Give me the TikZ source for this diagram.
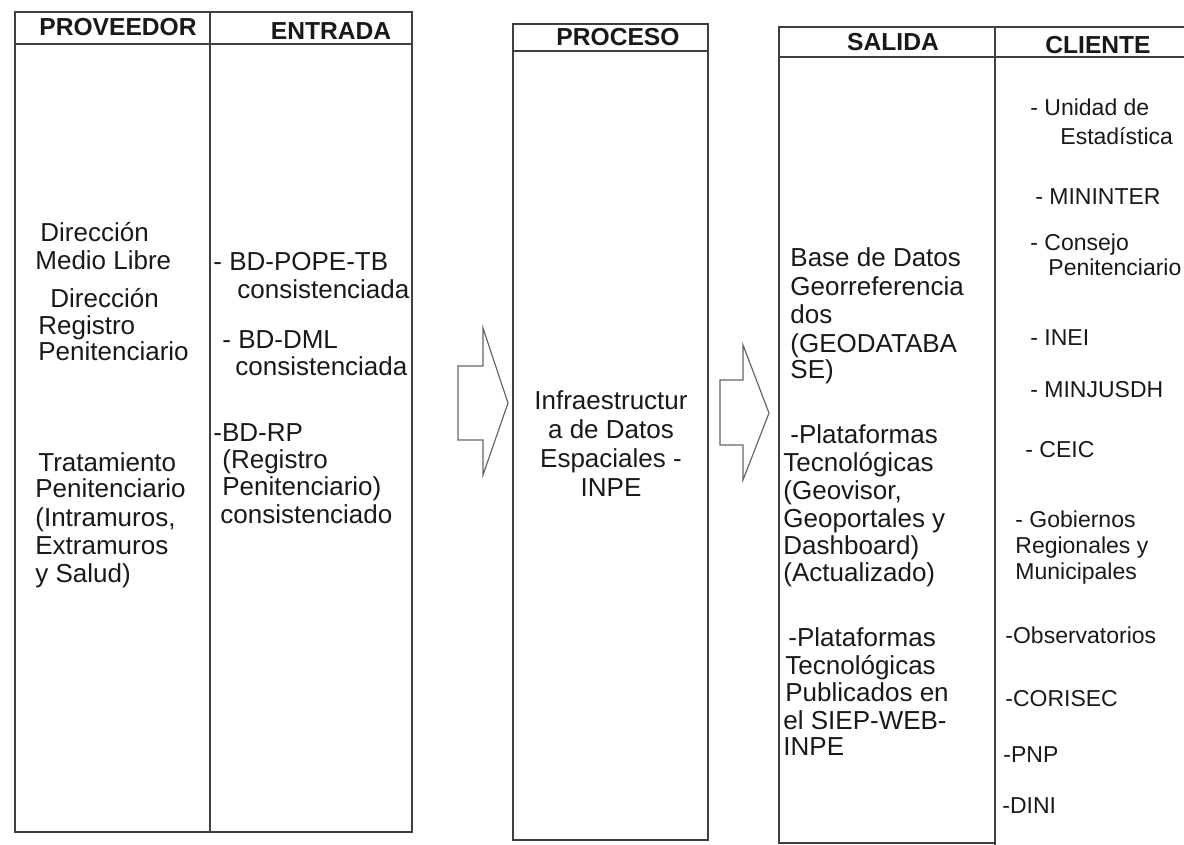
\documentclass[tikz,border=0pt]{standalone}
\usepackage{fontspec}
\setmainfont{Liberation Sans}
\newcommand\txtB[4]{\node[body] (#1) at (#2,#3) {#4};}
\newcommand\txtC[4]{\node[cli] (#1) at (#2,#3) {#4};}
\begin{document}
\begin{tikzpicture}[x=0.5pt,y=-0.5pt,
  frame/.style={draw=black!75, line width=0.8pt},
  hdr/.style={font=\fontsize{12.3}{14}\selectfont\bfseries, inner sep=0pt, text=black!90},
  body/.style={font=\fontsize{13}{14}\selectfont, inner sep=0pt, anchor=base west, text=black!90},
  cli/.style={font=\fontsize{11.5}{13}\selectfont, inner sep=0pt, anchor=base west, text=black!90},
  blockarrow/.style={draw=black!60, line width=0.6pt, line join=miter}]
\useasboundingbox (0,0) rectangle (1184,845);

% frames
\draw[frame] (15,12) rectangle (412,832);
\draw[frame] (15,44) -- (412,44);
\draw[frame] (210,12) -- (210,832);
\draw[frame] (513,24) rectangle (708,840);
\draw[frame] (513,51) -- (708,51);
\draw[frame] (1184,27) -- (779,27) -- (779,843) -- (995,843);
\draw[frame] (779,57) -- (1184,57);
\draw[frame] (995,27) -- (995,845);

% headers
\node[hdr] (hprov) at (118,27) {PROVEEDOR};
\node[hdr] (hent) at (331,31) {ENTRADA};
\node[hdr] (hproc) at (618,37) {PROCESO};
\node[hdr] (hsal) at (893,42) {SALIDA};
\node[hdr] (hcli) at (1098,45) {CLIENTE};

% proveedor
\txtB{p1}{40}{242}{Dirección}
\txtB{p2}{35}{270}{Medio Libre}
\txtB{p3}{50}{307}{Dirección}
\txtB{p4}{38}{335}{Registro}
\txtB{p5}{38}{361}{Penitenciario}
\txtB{p6}{38}{471}{Tratamiento}
\txtB{p7}{35}{497}{Penitenciario}
\txtB{p8}{35}{526}{(Intramuros,}
\txtB{p9}{35}{554}{Extramuros}
\txtB{p10}{35}{582}{y Salud)}

% entrada
\txtB{e1}{213}{271}{- BD-POPE-TB}
\txtB{e2}{237}{299}{consistenciada}
\txtB{e3}{222}{349}{- BD-DML}
\txtB{e4}{235}{376}{consistenciada}
\txtB{e5}{213}{441}{-BD-RP}
\txtB{e6}{222}{468}{(Registro}
\txtB{e7}{222}{495}{Penitenciario)}
\txtB{e8}{220}{523}{consistenciado}

% proceso
\node[body,anchor=base] (c1) at (611,409) {Infraestructur};
\node[body,anchor=base] (c2) at (611,438) {a de Datos};
\node[body,anchor=base] (c3) at (611,467) {Espaciales -};
\node[body,anchor=base] (c4) at (611,496) {INPE};

% salida
\txtB{s1}{790}{267}{Base de Datos}
\txtB{s2}{790}{296}{Georreferencia}
\txtB{s3}{790}{324}{dos}
\txtB{s4}{790}{352}{(GEODATABA}
\txtB{s5}{790}{379}{SE)}
\txtB{s6}{790}{444}{-Plataformas}
\txtB{s7}{783}{471}{Tecnológicas}
\txtB{s8}{783}{499}{(Geovisor,}
\txtB{s9}{783}{527}{Geoportales y}
\txtB{s10}{783}{554}{Dashboard)}
\txtB{s11}{783}{581}{(Actualizado)}
\txtB{s12}{788}{646}{-Plataformas}
\txtB{s13}{785}{674}{Tecnológicas}
\txtB{s14}{785}{701}{Publicados en}
\txtB{s15}{783}{729}{el SIEP-WEB-}
\txtB{s16}{783}{755}{INPE}

% cliente
\txtC{k1}{1030}{116}{- Unidad de}
\txtC{k2}{1060}{145}{Estadística}
\txtC{k3}{1035}{205}{- MININTER}
\txtC{k4}{1030}{251}{- Consejo}
\txtC{k5}{1048}{276}{Penitenciario}
\txtC{k6}{1030}{346}{- INEI}
\txtC{k7}{1030}{398}{- MINJUSDH}
\txtC{k8}{1025}{457}{- CEIC}
\txtC{k9}{1015}{527}{- Gobiernos}
\txtC{k10}{1015}{553}{Regionales y}
\txtC{k11}{1015}{579}{Municipales}
\txtC{k12}{1005}{643}{-Observatorios}
\txtC{k13}{1005}{706}{-CORISEC}
\txtC{k14}{1003}{762}{-PNP}
\txtC{k15}{1002}{813}{-DINI}

% block arrows
\draw[blockarrow] (458,366) -- (483,366) -- (483,328) -- (508,403) -- (483,475) -- (483,440) -- (458,440) -- cycle;
\draw[blockarrow] (720,380) -- (743,380) -- (743,345) -- (769,413) -- (743,480) -- (743,445) -- (720,445) -- cycle;
\end{tikzpicture}
\end{document}
